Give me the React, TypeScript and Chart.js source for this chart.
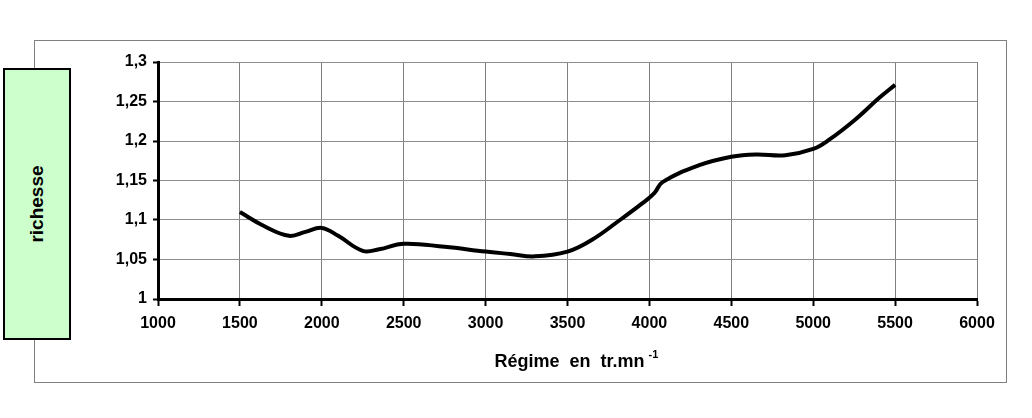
import React, { useEffect, useRef } from "react";
import { Chart, registerables } from "chart.js";

Chart.register(...registerables);

const regime = [1500, 1650, 1800, 1900, 2000, 2100, 2250, 2350, 2500, 2750, 3000, 3150, 3300, 3500, 3650, 3820, 3950, 4030, 4080, 4300, 4500, 4650, 4830, 5000, 5100, 5250, 5400, 5500];
const richesse = [1.110, 1.092, 1.080, 1.085, 1.090, 1.080, 1.061, 1.063, 1.070, 1.066, 1.060, 1.057, 1.054, 1.060, 1.075, 1.100, 1.120, 1.134, 1.148, 1.169, 1.180, 1.183, 1.182, 1.190, 1.202, 1.226, 1.254, 1.271];

const xMin = 1000;
const xMax = 6000;
const xStep = 500;
const yMin = 1;
const yMax = 1.3;
const yStep = 0.05;

const yLabel = "richesse";
const xTitle = "Régime  en  tr.mn";
const xTitleSup = "-1";

const FONT = "'Liberation Sans', Arial, sans-serif";

export default function App() {
  const canvasRef = useRef<HTMLCanvasElement | null>(null);

  useEffect(() => {
    const canvas = canvasRef.current;
    if (!canvas) return;

    const titlePlugin = {
      id: "xTitleSup",
      afterDraw(chart: any) {
        const { ctx, chartArea } = chart;
        ctx.save();
        ctx.fillStyle = "#000";
        ctx.font = `bold 18px ${FONT}`;
        ctx.textBaseline = "alphabetic";
        const w = ctx.measureText(xTitle).width;
        const cx = (chartArea.left + chartArea.right) / 2 + 2;
        const x0 = cx - w / 2;
        const base = 367;
        ctx.textAlign = "left";
        ctx.fillText(xTitle, x0, base);
        ctx.font = `bold 11px ${FONT}`;
        ctx.fillText(xTitleSup, x0 + w + 4, base - 9);
        ctx.restore();
      },
    };

    const chart = new Chart(canvas, {
      type: "line",
      data: {
        datasets: [
          {
            data: regime.map((x, i) => ({ x, y: richesse[i] })),
            borderColor: "#000",
            borderWidth: 4,
            pointRadius: 0,
            tension: 0.4,
            fill: false,
          },
        ],
      },
      options: {
        animation: false,
        responsive: false,
        devicePixelRatio: 1,
        layout: { padding: { left: 0, top: 62, right: 55, bottom: 0 } },
        plugins: { legend: { display: false }, tooltip: { enabled: false } },
        scales: {
          x: {
            type: "linear",
            min: xMin,
            max: xMax,
            afterFit: (scale: any) => {
              scale.height = 119;
            },
            ticks: {
              stepSize: xStep,
              color: "#000",
              font: { family: FONT, size: 16, weight: "bold" },
              padding: 8,
              maxRotation: 0,
              callback: (v: any) => String(v),
            },
            grid: {
              color: "#808080",
              lineWidth: 1,
              tickColor: "#000",
              tickWidth: 2,
              tickLength: 7,
            },
            border: { color: "#000", width: 3 },
          },
          y: {
            type: "linear",
            min: yMin,
            max: yMax,
            afterFit: (scale: any) => {
              scale.width = 158;
            },
            ticks: {
              stepSize: yStep,
              color: "#000",
              font: { family: FONT, size: 16, weight: "bold" },
              padding: 6,
              callback: (v: any) => String(Math.round(Number(v) * 100) / 100).replace(".", ","),
            },
            grid: {
              color: "#8c8c8c",
              lineWidth: 1,
              tickColor: "#000",
              tickWidth: 2,
              tickLength: 5,
            },
            border: { color: "#000", width: 3 },
          },
        },
      },
      plugins: [titlePlugin],
    } as any);

    return () => chart.destroy();
  }, []);

  return (
    <div style={{ position: "absolute", left: 0, top: 0, width: 1032, height: 418, background: "#fff" }}>
      <div
        style={{
          position: "absolute",
          left: 34,
          top: 40,
          width: 971,
          height: 341,
          border: "1px solid #808080",
        }}
      />
      <canvas ref={canvasRef} width={1032} height={418} style={{ position: "absolute", left: 0, top: 0 }} />
      <div
        style={{
          position: "absolute",
          left: 3,
          top: 68,
          width: 64,
          height: 268,
          background: "#ccffcc",
          border: "2px solid #000",
          display: "flex",
          alignItems: "center",
          justifyContent: "center",
        }}
      >
        <span
          style={{
            transform: "rotate(-90deg)",
            fontFamily: FONT,
            fontWeight: "bold",
            fontSize: 19,
            color: "#000",
            whiteSpace: "nowrap",
          }}
        >
          {yLabel}
        </span>
      </div>
    </div>
  );
}
